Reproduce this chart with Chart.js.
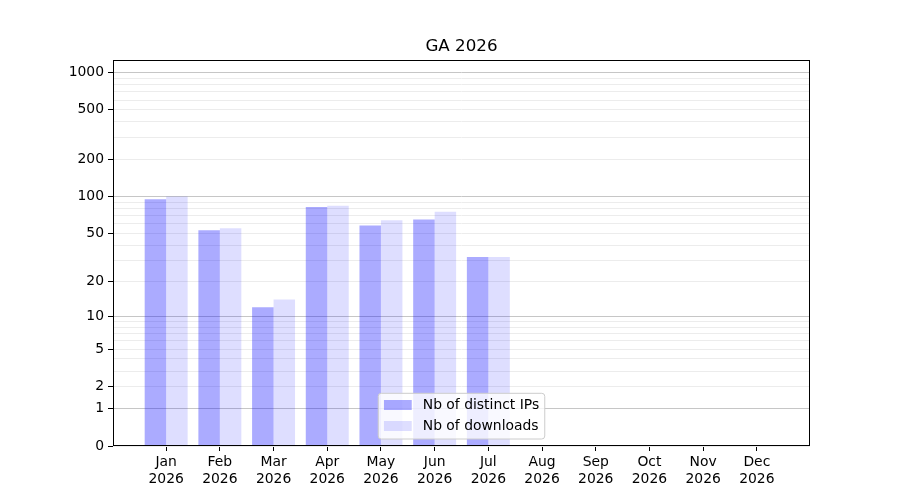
<!DOCTYPE html>
<html>
<head>
<meta charset="utf-8">
<title>GA 2026</title>
<script src="https://cdn.jsdelivr.net/npm/chart.js@4.4.1/dist/chart.umd.min.js"></script>
<style>
  body { margin: 0; background: #fff; }
  #wrap { width: 900px; height: 500px; }
</style>
</head>
<body>
<div id="wrap"><canvas id="gaChart" width="900" height="500"></canvas></div>
<script>
'use strict';

// monthly stats for 2026
const months = ['Jan', 'Feb', 'Mar', 'Apr', 'May', 'Jun', 'Jul', 'Aug', 'Sep', 'Oct', 'Nov', 'Dec'];
const year = '2026';
const distinctIps = [95, 53, 12, 82, 58, 65, 32, 0, 0, 0, 0, 0];
const downloads = [100, 55, 14, 84, 64, 75, 32, 0, 0, 0, 0, 0];

// y axis ticks (labelled) and the gridlines
const yTickLabels = [0, 1, 2, 5, 10, 20, 50, 100, 200, 500, 1000];
const yMajorLines = [1, 10, 100, 1000];
const yMinorLines = [2, 3, 4, 5, 6, 7, 8, 9, 20, 30, 40, 50, 60, 70, 80, 90, 200, 300, 400, 500, 600, 700, 800, 900];
const yGridValues = [0].concat(yMajorLines, yMinorLines).sort((a, b) => a - b);
const yMaxValue = 1258;

const FONT = 'DejaVu Sans';
const FS = 13.9;

// axis that maps v -> log10(1 + v), like the symlog-ish axis of the original
class Log1pScale extends Chart.LinearScale {
  configure() {
    super.configure();
    this._startPos = Math.log10(1 + this.min);
    this._posRange = Math.log10(1 + this.max) - this._startPos;
  }
  getPixelForValue(value) {
    if (value === null || isNaN(value)) return NaN;
    return this.getPixelForDecimal((Math.log10(1 + value) - this._startPos) / this._posRange);
  }
  getValueForPixel(pixel) {
    return Math.pow(10, this._startPos + this.getDecimalForPixel(pixel) * this._posRange) - 1;
  }
}
Log1pScale.id = 'log1p';
Log1pScale.defaults = Chart.LinearScale.defaults;
Chart.register(Log1pScale);

//frame around the plot area
const axesFrame = {
  id: 'axesFrame',
  afterDatasetsDraw(chart) {
    const { ctx, chartArea: a } = chart;
    ctx.save();
    ctx.strokeStyle = '#000';
    ctx.lineWidth = 1;
    ctx.strokeRect(Math.round(a.left) + 0.5, Math.round(a.top) + 0.5,
      Math.round(a.right - a.left) - 1, Math.round(a.bottom - a.top) - 1);
    ctx.restore();
  }
};

//legend drawn inside the axes, lower center
const legendInAxes = {
  id: 'legendInAxes',
  afterDraw(chart) {
    const { ctx, chartArea } = chart;
    const sets = chart.data.datasets;
    ctx.save();
    ctx.font = FS + 'px "' + FONT + '"';
    const textW = Math.max(...sets.map(d => ctx.measureText(d.label).width));
    const w = 5.6 + 27.8 + 11.1 + textW + 5.6;
    const h = 45.7;
    const left = (chartArea.left + chartArea.right) / 2 - w / 2;
    const top = chartArea.bottom - 7 - h;
    ctx.beginPath();
    ctx.roundRect(left, top, w, h, 3);
    ctx.fillStyle = 'rgba(255,255,255,0.8)';
    ctx.fill();
    ctx.strokeStyle = '#cccccc';
    ctx.lineWidth = 1;
    ctx.stroke();
    sets.forEach((d, i) => {
      const cy = top + 11.7 + i * 21;
      ctx.fillStyle = d.backgroundColor;
      ctx.fillRect(left + 5.7, cy - 5, 27.8, 10);
      ctx.fillStyle = '#000';
      ctx.textBaseline = 'middle';
      ctx.textAlign = 'left';
      ctx.fillText(d.label, left + 5.6 + 27.8 + 11.1, cy);
    });
    ctx.restore();
  }
};

Chart.defaults.font.family = FONT;
Chart.defaults.font.size = FS;
Chart.defaults.color = '#000';

const gaData = {
  datasets: [
    {
      label: 'Nb of distinct IPs',
      backgroundColor: 'rgba(0, 0, 255, 0.33)',
      data: months.map((m, i) => ({ x: i, y: distinctIps[i] })),
    },
    {
      label: 'Nb of downloads',
      backgroundColor: 'rgba(0, 0, 255, 0.13)',
      data: months.map((m, i) => ({ x: i, y: downloads[i] })),
    },
  ],
};

const gaConfig = {
  type: 'bar',
  data: gaData,
  options: {
    responsive: false,
    animation: false,
    devicePixelRatio: 1,
    categoryPercentage: 0.8,
    barPercentage: 1.0,
    layout: { padding: { left: 0, right: 90, top: 0, bottom: 0 } },
    plugins: {
      legend: { display: false },
      tooltip: { enabled: false },
      title: {
        display: true,
        fullSize: false,
        text: 'GA ' + year,
        color: '#000',
        font: { size: 16.7, weight: 'normal' },
        padding: { top: 37, bottom: 3 },
      },
    },
    scales: {
      x: {
        type: 'linear',
        min: -0.99,
        max: 11.99,
        offset: false,
        afterBuildTicks: scale => { scale.ticks = months.map((m, i) => ({ value: i })); },
        afterFit: scale => { scale.height = 54; },
        border: { display: false },
        grid: { offset: false, drawOnChartArea: false, tickColor: '#000', tickLength: 5 },
        ticks: {
          autoSkip: false,
          maxRotation: 0,
          padding: 3,
          callback: v => [months[v], year],
        },
      },
      y: {
        type: 'log1p',
        min: 0,
        max: yMaxValue,
        afterBuildTicks: scale => { scale.ticks = yGridValues.map(v => ({ value: v })); },
        afterFit: scale => { scale.width = 113; },
        border: { display: false },
        grid: {
          color: ctx => yMajorLines.includes(ctx.tick.value) ? '#c6c6c6' : '#ececec',
          tickColor: ctx => yTickLabels.includes(ctx.tick.value) ? '#000' : 'rgba(0,0,0,0)',
          tickLength: 5,
        },
        ticks: {
          autoSkip: false,
          padding: 4,
          callback: v => yTickLabels.includes(v) ? String(v) : '',
        },
      },
    },
  },
  plugins: [axesFrame, legendInAxes],
};

const gaChart = new Chart(document.getElementById('gaChart'), gaConfig);
</script>
</body>
</html>
